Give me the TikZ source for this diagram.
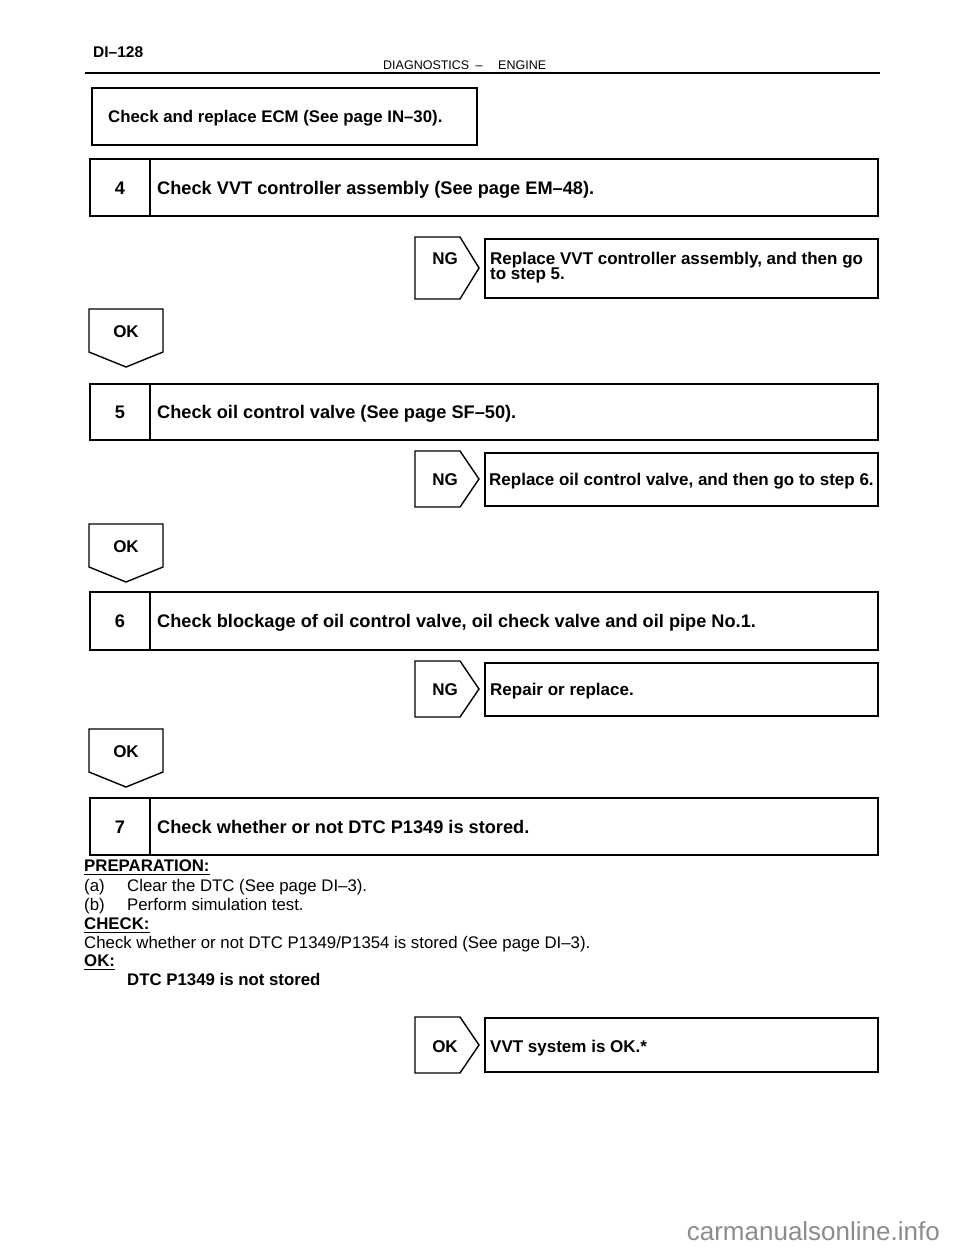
\documentclass[tikz,border=0pt]{standalone}
\usepackage{fontspec}
\setmainfont{Liberation Sans}
\newcommand{\fbig}{\fontsize{18.2}{21}\bfseries\selectfont}
\newcommand{\fmid}{\fontsize{17}{20}\bfseries\selectfont}
\newcommand{\fecm}{\fontsize{16.8}{20}\bfseries\selectfont}
\newcommand{\freg}{\fontsize{16.8}{20}\selectfont}
\newcommand{\fsmall}{\fontsize{12.5}{14}\selectfont}
\begin{document}
\begin{tikzpicture}[x=1pt,y=-1pt,
  boxline/.style={draw=black,line width=1.4pt,line join=miter},
  txt/.style={inner sep=0pt,anchor=base west},
  ctxt/.style={inner sep=0pt,anchor=base},
  stepnum/.style={ctxt,font=\fbig},
  steptext/.style={txt,font=\fbig},
  restext/.style={txt,font=\fmid},
  flag/.style={ctxt,font=\fmid},
  body/.style={txt,font=\freg},
  bodyb/.style={txt,font=\fecm},
  uline/.style={draw=black,line width=1pt}]
\useasboundingbox (0,0) rectangle (960,1250);
\fill[white] (0,0) rectangle (960,1250);

% header
\node[txt,font=\fontsize{15.5}{18}\bfseries\selectfont] (page) at (93,57) {DI--128};
\draw[line width=1.2pt] (85,73) -- (880,73);
\node[txt,font=\fsmall] (hd1) at (383,69) {DIAGNOSTICS};
\node[ctxt,font=\fsmall] (hd2) at (479,69) {--};
\node[txt,font=\fsmall] (hd3) at (498,69) {ENGINE};

% ECM box
\draw[boxline] (92,88) rectangle (477,145);
\node[txt,font=\fecm] (ecm) at (108,122) {Check and replace ECM (See page IN--30).};

% step 4
\draw[boxline] (90,159) rectangle (878,216);
\draw[boxline] (150,159) -- (150,216);
\node[stepnum] (n4) at (120,194) {4};
\node[steptext] (t4) at (157,194) {Check VVT controller assembly (See page EM--48).};

% NG 4
\draw[boxline] (415,237) -- (460,237) -- (479,268) -- (460,299) -- (415,299) -- cycle;
\node[flag] (ng4) at (445,264) {NG};
\draw[boxline] (485,239) rectangle (878,298);
\node[restext] (r4a) at (490,264) {Replace VVT controller assembly, and then go};
\node[restext] (r4b) at (490,279) {to step 5.};

% OK 1
\draw[boxline] (89,309) -- (163,309) -- (163,352) -- (126,367) -- (89,352) -- cycle;
\node[flag] (ok1) at (126,337) {OK};

% step 5
\draw[boxline] (90,384) rectangle (878,440);
\draw[boxline] (150,384) -- (150,440);
\node[stepnum] (n5) at (120,418) {5};
\node[steptext] (t5) at (157,418) {Check oil control valve (See page SF--50).};

% NG 5
\draw[boxline] (415,451) -- (460,451) -- (479,479) -- (460,507) -- (415,507) -- cycle;
\node[flag] (ng5) at (445,485) {NG};
\draw[boxline] (485,453) rectangle (878,506);
\node[restext] (r5) at (489,485) {Replace oil control valve, and then go to step 6.};

% OK 2
\draw[boxline] (89,524) -- (163,524) -- (163,567) -- (126,582) -- (89,567) -- cycle;
\node[flag] (ok2) at (126,552) {OK};

% step 6
\draw[boxline] (90,592) rectangle (878,650);
\draw[boxline] (150,592) -- (150,650);
\node[stepnum] (n6) at (120,627) {6};
\node[steptext] (t6) at (157,627) {Check blockage of oil control valve, oil check valve and oil pipe No.1.};

% NG 6
\draw[boxline] (415,661) -- (460,661) -- (479,689) -- (460,717) -- (415,717) -- cycle;
\node[flag] (ng6) at (445,695) {NG};
\draw[boxline] (485,663) rectangle (878,716);
\node[restext] (r6) at (490,695) {Repair or replace.};

% OK 3
\draw[boxline] (89,729) -- (163,729) -- (163,772) -- (126,787) -- (89,772) -- cycle;
\node[flag] (ok3) at (126,757) {OK};

% step 7
\draw[boxline] (90,798) rectangle (878,855);
\draw[boxline] (150,798) -- (150,855);
\node[stepnum] (n7) at (120,833) {7};
\node[steptext] (t7) at (157,833) {Check whether or not DTC P1349 is stored.};

% preparation text
\node[bodyb] (prep) at (84,871) {PREPARATION:};
\draw[uline] ([yshift=-3.5pt]prep.base west) -- ([yshift=-3.5pt]prep.base east);
\node[body] (pa) at (84,891) {(a)};
\node[body] (pat) at (127,891) {Clear the DTC (See page DI--3).};
\node[body] (pb) at (84,910) {(b)};
\node[body] (pbt) at (127,910) {Perform simulation test.};
\node[bodyb] (chk) at (84,929) {CHECK:};
\draw[uline] ([yshift=-3.5pt]chk.base west) -- ([yshift=-3.5pt]chk.base east);
\node[body] (chkt) at (84,948) {Check whether or not DTC P1349/P1354 is stored (See page DI--3).};
\node[bodyb] (okl) at (84,966) {OK:};
\draw[uline] ([yshift=-3.5pt]okl.base west) -- ([yshift=-3.5pt]okl.base east);
\node[bodyb] (okt) at (127,985) {DTC P1349 is not stored};

% final OK
\draw[boxline] (415,1017) -- (460,1017) -- (479,1045) -- (460,1073) -- (415,1073) -- cycle;
\node[flag] (okf) at (445,1052) {OK};
\draw[boxline] (485,1018) rectangle (878,1072);
\node[restext] (rf) at (490,1052) {VVT system is OK.*};

% watermark
\node[inner sep=0pt,anchor=base east,font=\fontsize{26}{30}\selectfont,text=black!45] (wm) at (940,1240) {carmanualsonline.info};
\end{tikzpicture}
\end{document}
